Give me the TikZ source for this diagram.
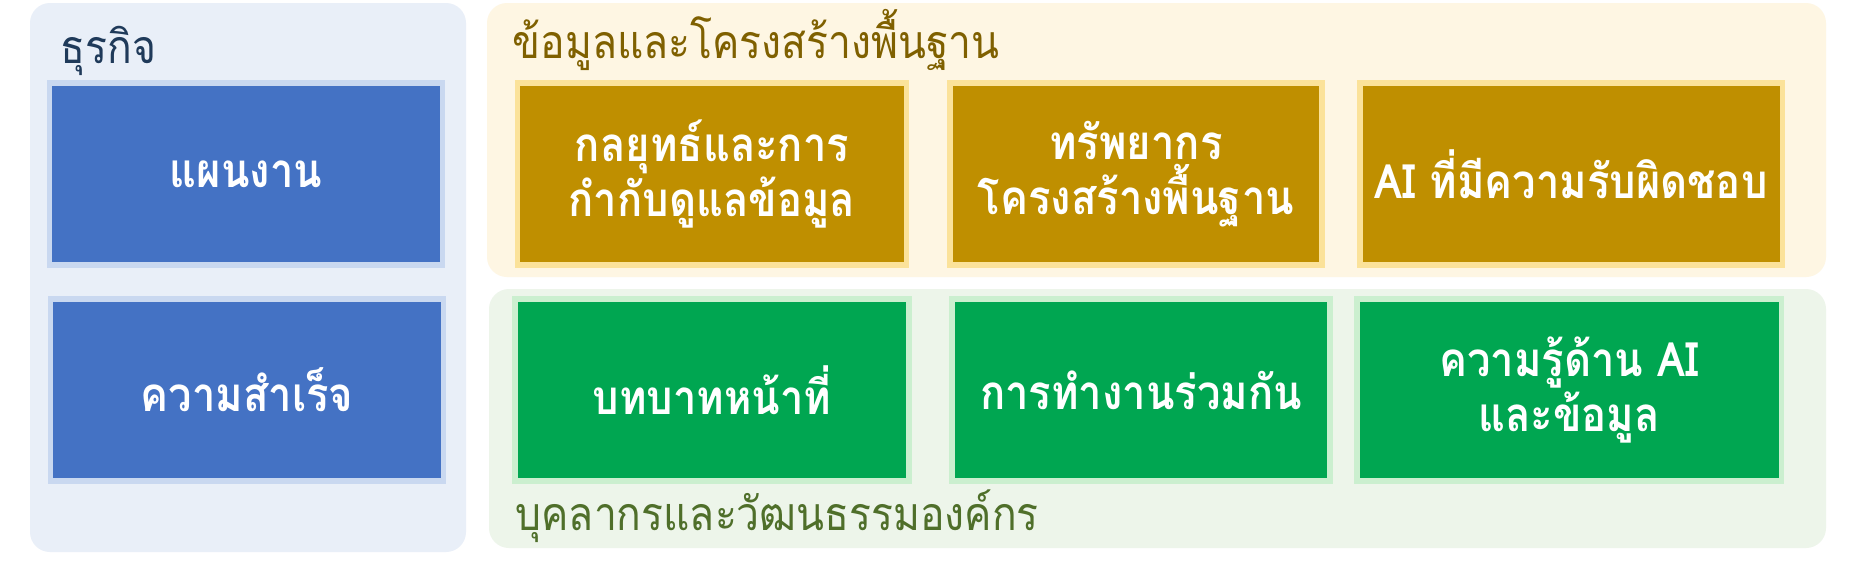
\documentclass[tikz,border=0pt]{standalone}
\usepackage{fontspec}
\setmainfont{Loma}[Script=Thai,FakeStretch=0.88]
\definecolor{bizpanel}{HTML}{E9EFF8}
\definecolor{bizbox}{HTML}{4472C4}
\definecolor{bizhalo}{HTML}{C9D8F0}
\definecolor{biztext}{HTML}{1F3A5A}
\definecolor{datapanel}{HTML}{FEF6E3}
\definecolor{databox}{HTML}{BF8F00}
\definecolor{datahalo}{HTML}{FBE29A}
\definecolor{datatext}{HTML}{7F6000}
\definecolor{peoplepanel}{HTML}{EDF5EA}
\definecolor{peoplebox}{HTML}{00A651}
\definecolor{peoplehalo}{HTML}{CBEFCF}
\definecolor{peopletext}{HTML}{4F6F2A}
\tikzset{
  panel/.style={rounded corners=2mm},
  block/.style={minimum height=1.82cm,inner sep=0pt,align=center,
    text=white,line width=1.5pt,font=\bfseries\fontsize{13.5}{15.6}\selectfont},
  bizblock/.style={block,fill=bizbox,draw=bizhalo,minimum width=#1},
  datablock/.style={block,fill=databox,draw=datahalo,minimum width=#1},
  peopleblock/.style={block,fill=peoplebox,draw=peoplehalo,minimum width=#1},
  grouptitle/.style={anchor=base west,inner sep=0pt,font=\fontsize{13.2}{13}\selectfont}
}
\begin{document}
\begin{tikzpicture}[x=0.01cm,y=-0.01cm]
  \useasboundingbox[fill=white] (0,0) rectangle (1854,560);
  % group panels
  \fill[panel,bizpanel] (30,3) rectangle (466,552);
  \fill[panel,datapanel] (487,3) rectangle (1826,277);
  \fill[panel,peoplepanel] (489,289) rectangle (1826,548);
  % group titles
  \node[grouptitle,text=biztext] (biz) at (60,63) {ธุรกิจ};
  \node[grouptitle,text=datatext] (data) at (512,58) {ข้อมูลและโครงสร้างพื้นฐาน};
  \node[grouptitle,text=peopletext] (people) at (515,530) {บุคลากรและวัฒนธรรมองค์กร};
  % business
  \node[bizblock=3.93cm] (plan) at (246,174) {แผนงาน};
  \node[bizblock=3.93cm] (success) at (247,390) {ความสำเร็จ};
  % data and infrastructure
  \node[datablock=3.89cm] (govern) at (712,174) {กลยุทธ์และการ\\กำกับดูแลข้อมูล};
  \node[datablock=3.72cm] (infra) at (1136,174) {ทรัพยากร\\โครงสร้างพื้นฐาน};
  \node[datablock=4.22cm] (rai) at (1571,174) {AI ที่มีความรับผิดชอบ};
  % people and culture
  \node[peopleblock=3.94cm] (roles) at (712,390) {บทบาทหน้าที่};
  \node[peopleblock=3.78cm] (collab) at (1141,390) {การทำงานร่วมกัน};
  \node[peopleblock=4.24cm] (literacy) at (1569,390) {ความรู้ด้าน AI\\และข้อมูล};
\end{tikzpicture}
\end{document}
